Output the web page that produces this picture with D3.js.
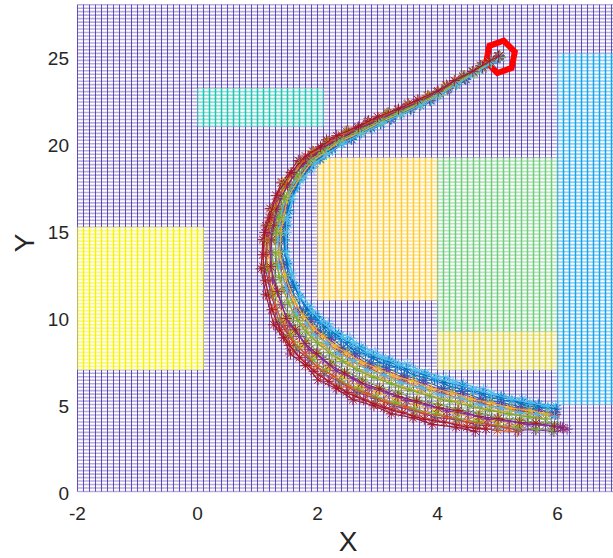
<!DOCTYPE html>
<html>
<head>
<meta charset="utf-8">
<script src="https://cdn.jsdelivr.net/npm/d3@7"></script>
<style>
  body { margin: 0; background: #fff; }
  svg { display: block; }
  text { font-family: "Liberation Sans", Arial, sans-serif; fill: #262626; }
</style>
</head>
<body>
<div id="chart"></div>
<script>
const xTicks = [-2, 0, 2, 4, 6];
const yTicks = [0, 5, 10, 15, 20, 25];
const goal = [5.05, 25.0];

// zones of the surface: x0, x1, y0, y1, height level (0..1)
const zones = [
  [-2, 0.1, 7, 15.2, 1.0],
  [0, 2.1, 21, 23.2, 0.5],
  [2, 4, 11, 19.2, 0.85],
  [4, 6, 9.2, 19.2, 0.62],
  [4, 6, 7, 9.2, 0.75],
  [6, 7, 5, 25.2, 0.38]
];

const run01 = [[5.02,24.97],[4.74,24.39],[4.47,23.73],[4.16,23.18],[3.89,22.50],[3.54,22.04],[3.23,21.44],[2.88,20.99],[2.56,20.30],[2.21,19.80],[2.04,19.17],[1.82,18.68],[1.61,17.49],[1.45,16.20],[1.44,15.27],[1.38,14.50],[1.44,13.06],[1.54,11.78],[1.76,10.36],[1.89,9.89],[2.05,9.22],[2.23,8.84],[2.43,8.26],[2.64,7.94],[2.89,7.38],[3.15,7.12],[3.45,6.66],[3.76,6.39],[4.10,5.93],[4.40,5.75],[4.74,5.31],[5.05,5.15],[5.40,4.84],[5.67,4.73],[5.96,4.52]];
const run02 = [[5.03,25.05],[4.72,24.45],[4.45,23.93],[4.15,23.30],[3.84,22.79],[3.52,22.22],[3.18,21.80],[2.83,21.24],[2.51,20.75],[2.17,20.12],[1.92,19.58],[1.71,18.93],[1.41,17.80],[1.24,16.19],[1.16,15.35],[1.12,14.41],[1.09,12.92],[1.18,11.27],[1.32,9.76],[1.48,8.85],[1.60,8.12],[1.84,7.31],[2.05,6.68],[2.35,6.02],[2.62,5.56],[2.96,5.06],[3.25,4.76],[3.61,4.37],[3.94,4.13],[4.32,3.88],[4.64,3.71],[5.00,3.51],[5.33,3.44]];
const run03 = [[5.04,24.98],[4.75,24.42],[4.44,23.78],[4.17,23.24],[3.86,22.58],[3.54,22.11],[3.19,21.54],[2.88,21.08],[2.52,20.43],[2.21,19.92],[1.99,19.28],[1.80,18.79],[1.55,17.57],[1.38,16.22],[1.36,15.27],[1.29,14.49],[1.33,12.98],[1.42,11.65],[1.62,10.13],[1.75,9.59],[1.91,8.85],[2.10,8.38],[2.32,7.73],[2.54,7.35],[2.81,6.77],[3.09,6.48],[3.39,6.02],[3.70,5.76],[4.05,5.33],[4.37,5.18],[4.72,4.78],[5.03,4.65],[5.38,4.37],[5.65,4.31]];
const run04 = [[5.01,25.01],[4.74,24.49],[4.43,23.85],[4.16,23.34],[3.86,22.70],[3.50,22.26],[3.19,21.70],[2.84,21.27],[2.51,20.63],[2.18,20.15],[1.95,19.47],[1.71,18.98],[1.45,17.70],[1.26,16.26],[1.19,15.28],[1.15,14.48],[1.13,12.85],[1.22,11.41],[1.36,9.73],[1.52,9.04],[1.66,8.16],[1.87,7.56],[2.11,6.78],[2.37,6.30],[2.66,5.69],[2.97,5.35],[3.29,4.90],[3.61,4.65],[3.97,4.26],[4.31,4.15],[4.67,3.82],[4.99,3.75],[5.35,3.53],[5.63,3.55],[5.94,3.45],[6.16,3.58]];
const run05 = [[5.04,25.02],[4.73,24.40],[4.46,23.86],[4.15,23.22],[3.88,22.68],[3.53,22.11],[3.18,21.66],[2.87,21.09],[2.53,20.58],[2.18,19.95],[1.97,19.42],[1.77,18.79],[1.50,17.69],[1.35,16.15],[1.30,15.34],[1.23,14.42],[1.26,13.02],[1.34,11.47],[1.53,10.07],[1.66,9.30],[1.82,8.68],[2.01,7.99],[2.24,7.46],[2.48,6.87],[2.75,6.45],[3.04,5.98],[3.35,5.69],[3.67,5.26],[4.02,5.01],[4.35,4.71],[4.70,4.50],[5.01,4.24],[5.37,4.12],[5.64,3.95],[5.95,3.90]];
const run06 = [[5.03,24.96],[4.76,24.30],[4.47,23.75],[4.17,23.07],[3.90,22.51],[3.55,21.90],[3.24,21.43],[2.91,20.82],[2.56,20.28],[2.25,19.62],[2.05,19.15],[1.88,18.50],[1.64,17.50],[1.54,16.08],[1.51,15.35],[1.46,14.41],[1.53,13.20],[1.65,11.80],[1.88,10.65],[2.02,10.07],[2.18,9.67],[2.35,9.15],[2.54,8.84],[2.73,8.36],[2.96,8.01],[3.21,7.60],[3.50,7.32],[3.80,6.85],[4.14,6.55],[4.43,6.19],[4.77,5.88],[5.06,5.52],[5.42,5.33],[5.68,5.04],[5.97,4.94]];
const run07 = [[5.03,25.06],[4.72,24.50],[4.43,23.89],[4.15,23.38],[3.84,22.74],[3.51,22.31],[3.16,21.76],[2.85,21.33],[2.48,20.72],[2.15,20.23],[1.93,19.55],[1.68,19.04],[1.40,17.75],[1.21,16.28],[1.14,15.28],[1.09,14.49],[1.06,12.81],[1.14,11.32],[1.27,9.59],[1.43,8.84],[1.55,7.91],[1.80,7.25],[2.01,6.42],[2.32,5.91],[2.59,5.28],[2.94,4.93],[3.23,4.47],[3.59,4.24],[3.92,3.86],[4.31,3.70],[4.63,3.46]];
const run08 = [[5.05,24.97],[4.74,24.36],[4.47,23.70],[4.17,23.15],[3.88,22.47],[3.56,21.99],[3.22,21.40],[2.89,20.92],[2.57,20.25],[2.24,19.73],[2.04,19.11],[1.86,18.62],[1.62,17.45],[1.51,16.17],[1.47,15.28],[1.45,14.48],[1.49,13.10],[1.61,11.84],[1.83,10.49],[1.97,10.05],[2.13,9.46],[2.30,9.09],[2.50,8.58],[2.70,8.25],[2.93,7.73],[3.19,7.47],[3.48,7.03],[3.79,6.72],[4.12,6.27],[4.42,6.07],[4.76,5.62],[5.06,5.43],[5.41,5.11],[5.68,4.97],[5.98,4.74]];
const run09 = [[5.02,24.99],[4.75,24.35],[4.45,23.81],[4.16,23.15],[3.87,22.61],[3.55,22.02],[3.20,21.56],[2.89,20.97],[2.53,20.44],[2.22,19.81],[2.00,19.30],[1.82,18.66],[1.56,17.61],[1.43,16.13],[1.38,15.34],[1.35,14.42],[1.36,13.10],[1.49,11.62],[1.66,10.32],[1.83,9.63],[1.97,9.11],[2.16,8.50],[2.37,8.06],[2.59,7.52],[2.84,7.13],[3.12,6.68],[3.42,6.40],[3.73,5.95],[4.07,5.68],[4.38,5.35],[4.73,5.10],[5.05,4.80],[5.37,4.65],[5.68,4.44],[5.95,4.35]];
const run10 = [[5.02,25.03],[4.74,24.46],[4.45,23.83],[4.14,23.31],[3.87,22.66],[3.51,22.21],[3.20,21.65],[2.86,21.20],[2.50,20.58],[2.19,20.08],[1.95,19.42],[1.75,18.91],[1.48,17.67],[1.29,16.24],[1.26,15.28],[1.18,14.48],[1.21,12.90],[1.27,11.48],[1.46,9.87],[1.58,9.21],[1.74,8.38],[1.94,7.81],[2.17,7.08],[2.42,6.62],[2.71,6.03],[3.00,5.71],[3.32,5.25],[3.64,5.00],[4.00,4.60],[4.33,4.47],[4.68,4.12],[5.00,4.03],[5.36,3.80]];
const run11 = [[5.04,24.95],[4.74,24.38],[4.45,23.75],[4.18,23.19],[3.87,22.53],[3.55,22.05],[3.22,21.47],[2.88,21.00],[2.54,20.35],[2.23,19.82],[2.01,19.20],[1.83,18.69],[1.58,17.52],[1.44,16.18],[1.42,15.29],[1.36,14.47],[1.41,13.05],[1.51,11.73],[1.71,10.32],[1.88,9.80],[2.00,9.17],[2.22,8.72],[2.39,8.16],[2.62,7.79],[2.87,7.26],[3.14,6.97],[3.44,6.54],[3.76,6.23],[4.07,5.81],[4.41,5.62],[4.72,5.21],[5.06,5.03],[5.38,4.74],[5.69,4.64],[5.97,4.43]];
const run12 = [[5.02,25.00],[4.74,24.47],[4.43,23.89],[4.16,23.27],[3.85,22.74],[3.52,22.18],[3.17,21.74],[2.86,21.18],[2.50,20.68],[2.17,20.06],[1.94,19.51],[1.73,18.88],[1.45,17.76],[1.28,16.19],[1.21,15.33],[1.17,14.43],[1.15,12.94],[1.25,11.37],[1.39,9.86],[1.55,9.03],[1.67,8.32],[1.92,7.58],[2.13,6.97],[2.39,6.35],[2.68,5.89],[2.98,5.42],[3.30,5.11],[3.62,4.72],[3.98,4.47],[4.32,4.21],[4.67,4.01],[5.01,3.80],[5.34,3.70],[5.65,3.58],[5.92,3.54]];
const run13 = [[5.04,25.00],[4.73,24.36],[4.46,23.82],[4.16,23.21],[3.89,22.56],[3.53,22.08],[3.22,21.52],[2.87,21.03],[2.55,20.40],[2.20,19.87],[2.02,19.25],[1.79,18.73],[1.57,17.55],[1.40,16.14],[1.37,15.29],[1.34,14.47],[1.35,13.02],[1.48,11.67],[1.65,10.23],[1.82,9.66],[1.94,9.00],[2.16,8.52],[2.34,7.93],[2.60,7.53],[2.82,6.99],[3.13,6.68],[3.39,6.26],[3.74,5.96],[4.05,5.55],[4.40,5.36],[4.71,4.97],[5.05,4.81],[5.37,4.53],[5.66,4.45],[5.95,4.30]];
const run14 = [[5.02,25.02],[4.75,24.44],[4.44,23.82],[4.16,23.28],[3.87,22.64],[3.53,22.18],[3.18,21.62],[2.87,21.16],[2.51,20.54],[2.20,20.03],[1.96,19.38],[1.76,18.87],[1.50,17.64],[1.31,16.23],[1.27,15.29],[1.23,14.47],[1.22,12.93],[1.33,11.51],[1.48,9.95],[1.63,9.30],[1.79,8.52],[1.98,7.95],[2.21,7.27],[2.45,6.81],[2.74,6.24],[3.03,5.91],[3.34,5.47],[3.65,5.20],[4.01,4.81],[4.34,4.66],[4.69,4.31],[5.01,4.19],[5.37,3.96],[5.64,3.93],[5.95,3.75],[6.08,3.66]];
const run15 = [[5.03,24.99],[4.90,24.63],[4.61,24.07],[4.31,23.40],[4.04,22.85],[3.71,22.21],[3.39,21.74],[3.05,21.15],[2.73,20.64],[2.40,19.99],[2.14,19.48],[1.93,18.86],[1.74,18.09],[1.54,16.78],[1.48,15.76],[1.43,14.85],[1.45,13.82],[1.52,12.41],[1.70,11.17],[1.86,10.18],[2.03,9.71],[2.18,9.14],[2.38,8.76],[2.56,8.25],[2.80,7.90],[3.04,7.42],[3.33,7.14],[3.61,6.70],[3.95,6.40],[4.25,6.00],[4.59,5.75],[4.89,5.38],[5.24,5.19],[5.53,4.91],[5.84,4.79]];
const run16 = [[5.03,25.01],[4.87,24.76],[4.60,24.14],[4.30,23.62],[3.99,22.98],[3.69,22.50],[3.34,21.94],[3.02,21.50],[2.67,20.91],[2.35,20.41],[2.05,19.77],[1.84,19.24],[1.57,18.30],[1.37,17.01],[1.23,15.73],[1.19,14.91],[1.14,13.64],[1.20,12.18],[1.30,10.55],[1.46,9.46],[1.59,8.60],[1.79,7.95],[1.99,7.18],[2.26,6.64],[2.52,6.02],[2.83,5.63],[3.12,5.16],[3.46,4.88],[3.78,4.49],[4.15,4.31],[4.50,4.01],[4.82,3.88],[5.18,3.66]];
const run17 = [[5.04,24.99],[4.88,24.69],[4.61,24.05],[4.30,23.50],[4.03,22.83],[3.70,22.32],[3.37,21.74],[3.06,21.27],[2.72,20.65],[2.37,20.13],[2.11,19.50],[1.91,18.99],[1.71,18.08],[1.50,16.88],[1.43,15.70],[1.39,14.91],[1.37,13.73],[1.46,12.41],[1.61,10.97],[1.77,10.07],[1.93,9.41],[2.09,8.93],[2.30,8.36],[2.49,7.95],[2.74,7.43],[3.01,7.08],[3.27,6.65],[3.59,6.35],[3.90,5.92],[4.24,5.68],[4.55,5.32],[4.89,5.10],[5.21,4.80],[5.54,4.67],[5.81,4.46]];
const run18 = [[5.02,25.01],[4.89,24.70],[4.58,24.16],[4.31,23.53],[4.00,22.99],[3.70,22.40],[3.35,21.93],[3.03,21.38],[2.68,20.89],[2.36,20.28],[2.07,19.74],[1.86,19.12],[1.62,18.29],[1.39,16.92],[1.30,15.78],[1.23,14.86],[1.22,13.73],[1.25,12.18],[1.40,10.74],[1.54,9.56],[1.70,8.91],[1.86,8.16],[2.09,7.59],[2.31,6.95],[2.59,6.49],[2.86,5.97],[3.19,5.65],[3.48,5.23],[3.84,4.96],[4.16,4.63],[4.52,4.45],[4.84,4.16],[5.20,4.05],[5.51,3.86],[5.80,3.82],[6.05,3.72]];
const run19 = [[5.03,25.00],[4.89,24.71],[4.59,24.10],[4.31,23.52],[4.01,22.91],[3.71,22.36],[3.36,21.84],[3.04,21.33],[2.70,20.76],[2.37,20.21],[2.09,19.61],[1.89,19.06],[1.66,18.18],[1.45,16.91],[1.36,15.74],[1.31,14.89],[1.30,13.72],[1.36,12.31],[1.51,10.86],[1.67,9.84],[1.81,9.16],[1.99,8.57],[2.19,7.99],[2.42,7.48],[2.66,6.99],[2.94,6.56],[3.23,6.19],[3.54,5.83],[3.87,5.48],[4.21,5.19],[4.54,4.92],[4.87,4.66],[5.20,4.45],[5.52,4.29],[5.81,4.16]];
const run20 = [[5.04,24.97],[4.90,24.66],[4.60,24.01],[4.33,23.44],[4.02,22.78],[3.73,22.25],[3.38,21.66],[3.07,21.17],[2.72,20.55],[2.41,20.00],[2.15,19.38],[1.96,18.88],[1.76,17.99],[1.58,16.83],[1.49,15.69],[1.48,14.91],[1.48,13.77],[1.57,12.52],[1.72,11.15],[1.92,10.33],[2.07,9.76],[2.22,9.35],[2.42,8.86],[2.60,8.51],[2.83,8.02],[3.08,7.70],[3.35,7.29],[3.63,6.98],[3.97,6.54],[4.26,6.27],[4.60,5.88],[4.90,5.62],[5.24,5.29],[5.54,5.12],[5.84,4.88]];
const run21 = [[5.02,25.04],[4.87,24.77],[4.59,24.17],[4.28,23.64],[4.01,23.03],[3.67,22.53],[3.35,22.00],[3.00,21.55],[2.68,20.98],[2.32,20.47],[2.05,19.83],[1.80,19.30],[1.56,18.35],[1.31,17.03],[1.20,15.74],[1.12,14.90],[1.09,13.62],[1.13,12.12],[1.24,10.46],[1.37,9.30],[1.53,8.41],[1.70,7.70],[1.94,6.91],[2.18,6.32],[2.48,5.70],[2.77,5.27],[3.11,4.81],[3.41,4.53],[3.78,4.15],[4.11,3.98],[4.49,3.70],[4.81,3.59]];

const runs = [run01, run02, run03, run04, run05, run06, run07, run08, run09, run10, run11,
  run12, run13, run14, run15, run16, run17, run18, run19, run20, run21];
const lineColors = ['#0072BD', '#D95319', '#EDB120', '#7E2F8E', '#77AC30', '#4DBEEE', '#A2142F'];

const width = 613;
const height = 558;

const x = d3.scaleLinear().domain([-2, 7]).range([77.5, 617.5]);
const y = d3.scaleLinear().domain([0, 28]).range([491.5, 4.7]);
const surfColor = d3.scaleLinear()
  .domain([0, 0.38, 0.5, 0.62, 0.75, 0.85, 1])
  .range(['#3e26a8', '#1aa3ec', '#22c2b2', '#6fcc7c', '#dcd23c', '#fdcb35', '#f6f20c']);

const svg = d3.select('#chart').append('svg')
  .attr('width', width)
  .attr('height', height);

const defs = svg.append('defs');

const gridX = d3.range(0, 91).map(k => -2 + k / 10);
const gridY = d3.range(0, 141).map(k => k / 5);

function drawMesh(g, color, vOp, vW, hOp, hW) {
  g.append('g')
    .selectAll('line')
    .data(gridY)
    .join('line')
      .attr('x1', x(-2))
      .attr('x2', x(7))
      .attr('y1', d => y(d))
      .attr('y2', d => y(d))
      .attr('stroke', color)
      .attr('stroke-opacity', hOp)
      .attr('stroke-width', hW);

  g.append('g')
    .selectAll('line')
    .data(gridX)
    .join('line')
      .attr('x1', d => x(d))
      .attr('x2', d => x(d))
      .attr('y1', y(0))
      .attr('y2', y(28))
      .attr('stroke', color)
      .attr('stroke-opacity', vOp)
      .attr('stroke-width', vW);
}

// base surface
drawMesh(svg.append('g'), surfColor(0), 0.8, 1, 0.38, 1.6);

// raised zones
zones.forEach((z, i) => {
  const [x0, x1, y0, y1, lvl] = z;
  defs.append('clipPath')
    .attr('id', `zone-${i}`)
    .append('rect')
      .attr('x', x(x0))
      .attr('y', y(y1))
      .attr('width', x(x1) - x(x0))
      .attr('height', y(y0) - y(y1));

  const g = svg.append('g').attr('clip-path', `url(#zone-${i})`);
  g.append('rect')
    .attr('x', x(x0))
    .attr('y', y(y1))
    .attr('width', x(x1) - x(x0))
    .attr('height', y(y0) - y(y1))
    .attr('fill', '#fff');
  drawMesh(g, surfColor(lvl), 1, 1.5, 0.5, 1.7);
});

// goal marker
const gx = x(goal[0]);
const gy = y(goal[1]);
const hexR = 15;
const hexPts = d3.range(6).map(k => {
  const a = (k * 60 - 90 + 12) * Math.PI / 180;
  return [gx + hexR * Math.cos(a), gy + hexR * 1.1 * Math.sin(a)];
});
svg.append('polygon')
  .attr('points', hexPts.map(p => p.join(',')).join(' '))
  .attr('fill', 'none')
  .attr('stroke', '#ff0000')
  .attr('stroke-width', 6)
  .attr('stroke-linejoin', 'miter');

// trajectories
const line = d3.line()
  .x(d => x(d[0]))
  .y(d => y(d[1]));

const star = 'M-5.5,0H5.5M0,-5.5V5.5M-3.9,-3.9L3.9,3.9M-3.9,3.9L3.9,-3.9';

runs.forEach((run, i) => {
  const color = lineColors[i % lineColors.length];
  const g = svg.append('g');
  g.append('path')
    .attr('d', line(run))
    .attr('fill', 'none')
    .attr('stroke', color)
    .attr('stroke-width', 1.1);
  g.selectAll('path.mk')
    .data(run)
    .join('path')
      .attr('class', 'mk')
      .attr('d', star)
      .attr('transform', d => `translate(${x(d[0])},${y(d[1])})`)
      .attr('fill', 'none')
      .attr('stroke', color)
      .attr('stroke-width', 0.9);
});

// tick labels
svg.append('g')
  .selectAll('text')
  .data(xTicks)
  .join('text')
    .attr('x', d => x(d))
    .attr('y', 513)
    .attr('text-anchor', 'middle')
    .attr('dominant-baseline', 'central')
    .attr('font-size', 19)
    .text(d => d);

svg.append('g')
  .selectAll('text')
  .data(yTicks)
  .join('text')
    .attr('x', 69)
    .attr('y', d => y(d) + 2)
    .attr('text-anchor', 'end')
    .attr('dominant-baseline', 'central')
    .attr('font-size', 19)
    .text(d => d);

svg.append('text')
  .attr('x', 348)
  .attr('y', 541)
  .attr('text-anchor', 'middle')
  .attr('dominant-baseline', 'central')
  .attr('font-size', 28)
  .text('X');

svg.append('text')
  .attr('transform', 'translate(24,243) rotate(-90)')
  .attr('text-anchor', 'middle')
  .attr('dominant-baseline', 'central')
  .attr('font-size', 28)
  .text('Y');
</script>
</body>
</html>
